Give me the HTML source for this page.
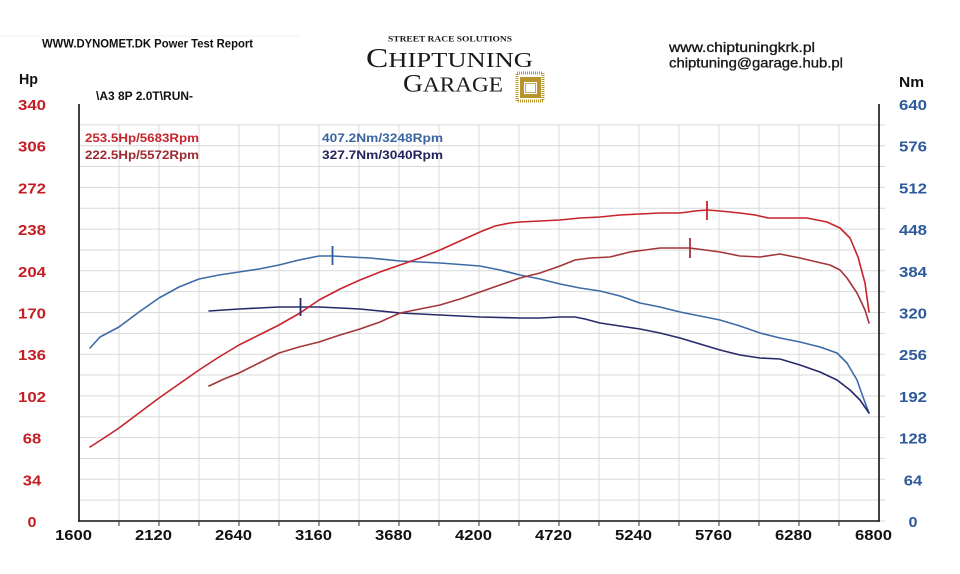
<!DOCTYPE html>
<html><head><meta charset="utf-8"><style>
html,body{margin:0;padding:0;background:#fff;}
svg{display:block;}
.s{font-family:"Liberation Sans",sans-serif;}
.sf{font-family:"Liberation Serif",serif;}
</style></head><body>
<svg width="960" height="574" viewBox="0 0 960 574" xmlns="http://www.w3.org/2000/svg">
<rect width="960" height="574" fill="#fff"/>
<line x1="0" y1="36" x2="300" y2="36" stroke="#f0f0f0" stroke-width="1"/>
<!-- grid -->
<g stroke="#d9d9d9" stroke-width="1">
<line x1="79" y1="124.85" x2="885" y2="124.85"/><line x1="79" y1="145.7" x2="885" y2="145.7"/>
<line x1="79" y1="166.55" x2="885" y2="166.55"/><line x1="79" y1="187.4" x2="885" y2="187.4"/>
<line x1="79" y1="208.25" x2="885" y2="208.25"/><line x1="79" y1="229.1" x2="885" y2="229.1"/>
<line x1="79" y1="249.95" x2="885" y2="249.95"/><line x1="79" y1="270.8" x2="885" y2="270.8"/>
<line x1="79" y1="291.65" x2="885" y2="291.65"/><line x1="79" y1="312.5" x2="885" y2="312.5"/>
<line x1="79" y1="333.35" x2="885" y2="333.35"/><line x1="79" y1="354.2" x2="885" y2="354.2"/>
<line x1="79" y1="375.05" x2="885" y2="375.05"/><line x1="79" y1="395.9" x2="885" y2="395.9"/>
<line x1="79" y1="416.75" x2="885" y2="416.75"/><line x1="79" y1="437.6" x2="885" y2="437.6"/>
<line x1="79" y1="458.45" x2="885" y2="458.45"/><line x1="79" y1="479.3" x2="885" y2="479.3"/>
<line x1="79" y1="500.15" x2="885" y2="500.15"/><line x1="879" y1="521" x2="885" y2="521"/>
<line x1="119" y1="125" x2="119" y2="521"/><line x1="159" y1="125" x2="159" y2="521"/>
<line x1="199" y1="125" x2="199" y2="521"/><line x1="239" y1="125" x2="239" y2="521"/>
<line x1="279" y1="125" x2="279" y2="521"/><line x1="319" y1="125" x2="319" y2="521"/>
<line x1="359" y1="125" x2="359" y2="521"/><line x1="399" y1="125" x2="399" y2="521"/>
<line x1="439" y1="125" x2="439" y2="521"/><line x1="479" y1="125" x2="479" y2="521"/>
<line x1="519" y1="125" x2="519" y2="521"/><line x1="559" y1="125" x2="559" y2="521"/>
<line x1="599" y1="125" x2="599" y2="521"/><line x1="639" y1="125" x2="639" y2="521"/>
<line x1="679" y1="125" x2="679" y2="521"/><line x1="719" y1="125" x2="719" y2="521"/>
<line x1="759" y1="125" x2="759" y2="521"/><line x1="799" y1="125" x2="799" y2="521"/>
<line x1="839" y1="125" x2="839" y2="521"/>
</g>
<!-- axes -->
<g stroke="#111" stroke-width="1.6">
<line x1="79" y1="104" x2="79" y2="521.8"/>
<line x1="879" y1="104" x2="879" y2="521.8"/>
<line x1="78.2" y1="521" x2="879.8" y2="521"/>
</g>
<g stroke="#333" stroke-width="1">
<line x1="119" y1="521" x2="119" y2="526"/><line x1="159" y1="521" x2="159" y2="526"/>
<line x1="199" y1="521" x2="199" y2="526"/><line x1="239" y1="521" x2="239" y2="526"/>
<line x1="279" y1="521" x2="279" y2="526"/><line x1="319" y1="521" x2="319" y2="526"/>
<line x1="359" y1="521" x2="359" y2="526"/><line x1="399" y1="521" x2="399" y2="526"/>
<line x1="439" y1="521" x2="439" y2="526"/><line x1="479" y1="521" x2="479" y2="526"/>
<line x1="519" y1="521" x2="519" y2="526"/><line x1="559" y1="521" x2="559" y2="526"/>
<line x1="599" y1="521" x2="599" y2="526"/><line x1="639" y1="521" x2="639" y2="526"/>
<line x1="679" y1="521" x2="679" y2="526"/><line x1="719" y1="521" x2="719" y2="526"/>
<line x1="759" y1="521" x2="759" y2="526"/><line x1="799" y1="521" x2="799" y2="526"/>
<line x1="839" y1="521" x2="839" y2="526"/>
</g>
<!-- x labels -->
<g class="s" font-weight="bold" font-size="15" fill="#111" text-anchor="middle">
<text x="73.5" y="540" textLength="37" lengthAdjust="spacingAndGlyphs">1600</text>
<text x="153.5" y="540" textLength="37" lengthAdjust="spacingAndGlyphs">2120</text>
<text x="233.5" y="540" textLength="37" lengthAdjust="spacingAndGlyphs">2640</text>
<text x="313.5" y="540" textLength="37" lengthAdjust="spacingAndGlyphs">3160</text>
<text x="393.5" y="540" textLength="37" lengthAdjust="spacingAndGlyphs">3680</text>
<text x="473.5" y="540" textLength="37" lengthAdjust="spacingAndGlyphs">4200</text>
<text x="553.5" y="540" textLength="37" lengthAdjust="spacingAndGlyphs">4720</text>
<text x="633.5" y="540" textLength="37" lengthAdjust="spacingAndGlyphs">5240</text>
<text x="713.5" y="540" textLength="37" lengthAdjust="spacingAndGlyphs">5760</text>
<text x="793.5" y="540" textLength="37" lengthAdjust="spacingAndGlyphs">6280</text>
<text x="873.5" y="540" textLength="37" lengthAdjust="spacingAndGlyphs">6800</text>
</g>
<!-- left y labels -->
<g class="s" font-weight="bold" font-size="15" fill="#c41e24" text-anchor="middle">
<text x="32" y="527" textLength="9" lengthAdjust="spacingAndGlyphs">0</text>
<text x="32" y="485.3" textLength="18.5" lengthAdjust="spacingAndGlyphs">34</text>
<text x="32" y="443.6" textLength="18.5" lengthAdjust="spacingAndGlyphs">68</text>
<text x="32" y="401.9" textLength="28" lengthAdjust="spacingAndGlyphs">102</text>
<text x="32" y="360.2" textLength="28" lengthAdjust="spacingAndGlyphs">136</text>
<text x="32" y="318.5" textLength="28" lengthAdjust="spacingAndGlyphs">170</text>
<text x="32" y="276.8" textLength="28" lengthAdjust="spacingAndGlyphs">204</text>
<text x="32" y="235.1" textLength="28" lengthAdjust="spacingAndGlyphs">238</text>
<text x="32" y="193.4" textLength="28" lengthAdjust="spacingAndGlyphs">272</text>
<text x="32" y="151.7" textLength="28" lengthAdjust="spacingAndGlyphs">306</text>
<text x="32" y="110" textLength="28" lengthAdjust="spacingAndGlyphs">340</text>
</g>
<!-- right y labels -->
<g class="s" font-weight="bold" font-size="15" fill="#2d5a9a" text-anchor="middle">
<text x="913" y="527" textLength="9" lengthAdjust="spacingAndGlyphs">0</text>
<text x="913" y="485.3" textLength="18.5" lengthAdjust="spacingAndGlyphs">64</text>
<text x="913" y="443.6" textLength="28" lengthAdjust="spacingAndGlyphs">128</text>
<text x="913" y="401.9" textLength="28" lengthAdjust="spacingAndGlyphs">192</text>
<text x="913" y="360.2" textLength="28" lengthAdjust="spacingAndGlyphs">256</text>
<text x="913" y="318.5" textLength="28" lengthAdjust="spacingAndGlyphs">320</text>
<text x="913" y="276.8" textLength="28" lengthAdjust="spacingAndGlyphs">384</text>
<text x="913" y="235.1" textLength="28" lengthAdjust="spacingAndGlyphs">448</text>
<text x="913" y="193.4" textLength="28" lengthAdjust="spacingAndGlyphs">512</text>
<text x="913" y="151.7" textLength="28" lengthAdjust="spacingAndGlyphs">576</text>
<text x="913" y="110" textLength="28" lengthAdjust="spacingAndGlyphs">640</text>
</g>
<!-- unit labels -->
<text class="s" x="19" y="84" font-weight="bold" font-size="15" fill="#111" textLength="19" lengthAdjust="spacingAndGlyphs">Hp</text>
<text class="s" x="899" y="87" font-weight="bold" font-size="15" fill="#111" textLength="25" lengthAdjust="spacingAndGlyphs">Nm</text>
<!-- header texts -->
<text class="s" x="42" y="47.5" font-weight="bold" font-size="12" fill="#111" textLength="211" lengthAdjust="spacingAndGlyphs">WWW.DYNOMET.DK  Power Test Report</text>
<text class="s" x="96" y="100" font-weight="bold" font-size="12" fill="#111" textLength="97" lengthAdjust="spacingAndGlyphs">\A3 8P 2.0T\RUN-</text>
<text class="s" x="669" y="52" font-size="14" fill="#1a1a1a" stroke="#1a1a1a" stroke-width="0.35" textLength="146" lengthAdjust="spacingAndGlyphs">www.chiptuningkrk.pl</text>
<text class="s" x="669" y="67.5" font-size="14" fill="#1a1a1a" stroke="#1a1a1a" stroke-width="0.35" textLength="174" lengthAdjust="spacingAndGlyphs">chiptuning@garage.hub.pl</text>
<!-- legend -->
<g class="s" font-weight="bold" font-size="12">
<text x="85" y="142" fill="#c4262c" textLength="114" lengthAdjust="spacingAndGlyphs">253.5Hp/5683Rpm</text>
<text x="85" y="159" fill="#9e2a30" textLength="114" lengthAdjust="spacingAndGlyphs">222.5Hp/5572Rpm</text>
<text x="322" y="142" fill="#3a65a0" textLength="121" lengthAdjust="spacingAndGlyphs">407.2Nm/3248Rpm</text>
<text x="322" y="159" fill="#23245f" textLength="121" lengthAdjust="spacingAndGlyphs">327.7Nm/3040Rpm</text>
</g>
<!-- logo -->
<g fill="#1a1a1a">
<text class="sf" x="388" y="41.5" style="font-family:'Liberation Serif',serif;font-weight:bold;font-size:8px;" textLength="124" lengthAdjust="spacingAndGlyphs">STREET RACE SOLUTIONS</text>
<text class="sf" x="366" y="67" style="font-family:'Liberation Serif',serif;" textLength="167" lengthAdjust="spacingAndGlyphs"><tspan style="font-size:27px">C</tspan><tspan style="font-size:21.5px">HIPTUNING</tspan></text>
<text class="sf" x="403" y="91.5" style="font-family:'Liberation Serif',serif;" textLength="100" lengthAdjust="spacingAndGlyphs"><tspan style="font-size:25px">G</tspan><tspan style="font-size:21px">ARAGE</tspan></text>
</g>
<g>
<rect x="517" y="73" width="26" height="28" fill="none" stroke="#b8952a" stroke-width="3" stroke-dasharray="1,1"/>
<rect x="520" y="77" width="21" height="21" fill="#b8952a"/>
<rect x="524" y="82" width="13" height="12" fill="#fff"/>
<rect x="525.5" y="83.5" width="10" height="9" fill="none" stroke="#b8952a" stroke-width="0.8"/>
</g>
<!-- curves -->
<g fill="none" stroke-width="1.6" stroke-linejoin="round" stroke-linecap="round">
<polyline stroke="#3c6ba5" points="90,348 100,337 119,327 139,312 159,298 179,287 199,279 219,275 239,272 259,269 279,265 299,260 319,256 333,256 350,257 370,258 400,261 440,263 480,266 500,270 520,275 540,279 560,284 580,288 600,291 620,296 640,303 660,307 680,312 700,316 720,320 740,326 760,333 780,338 800,342 820,347 837,353 847,363 857,380 863,397 869,413"/>
<polyline stroke="#262a6b" points="209,311 239,309 279,307 300,307 319,307 340,308 360,309 380,311 400,313 440,315 480,317 520,318 540,318 560,317 575,317 585,319 600,323 620,326 640,329 660,333 680,338 700,344 720,350 740,355 760,358 780,359 800,365 820,372 837,380 850,390 860,400 869,413"/>
<polyline stroke="#c8232a" points="90,447 104,438 119,428 139,413 159,398 179,384 199,370 219,357 239,345 259,335 279,325 300,313 319,300 340,289 360,280 380,272 400,265 420,258 440,250 460,241 480,232 495,226 510,223 520,222 540,221 560,220 580,218 600,217 620,215 640,214 660,213 680,213 695,211 707,210 720,211 740,213 755,215 768,218 780,218 807,218 827,222 840,228 850,238 858,257 865,283 869,312"/>
<polyline stroke="#a3353a" points="209,386 224,379 239,373 259,363 279,353 299,347 319,342 340,335 360,329 380,322 400,313 420,309 440,305 460,299 480,292 500,285 520,278 540,273 560,266 575,260 590,258 610,257 630,252 645,250 660,248 690,248 705,250 720,252 740,256 760,257 780,254 800,258 817,262 830,265 840,270 847,278 857,293 865,310 869,323"/>
</g>
<!-- peak markers -->
<g stroke-width="1.8">
<line x1="707" y1="201" x2="707" y2="220" stroke="#c8232a"/>
<line x1="690" y1="238" x2="690" y2="258" stroke="#a3353a"/>
<line x1="332.5" y1="246" x2="332.5" y2="265" stroke="#2d5a9a"/>
<line x1="300.5" y1="298" x2="300.5" y2="316" stroke="#262a6b"/>
</g>
</svg>
</body></html>
